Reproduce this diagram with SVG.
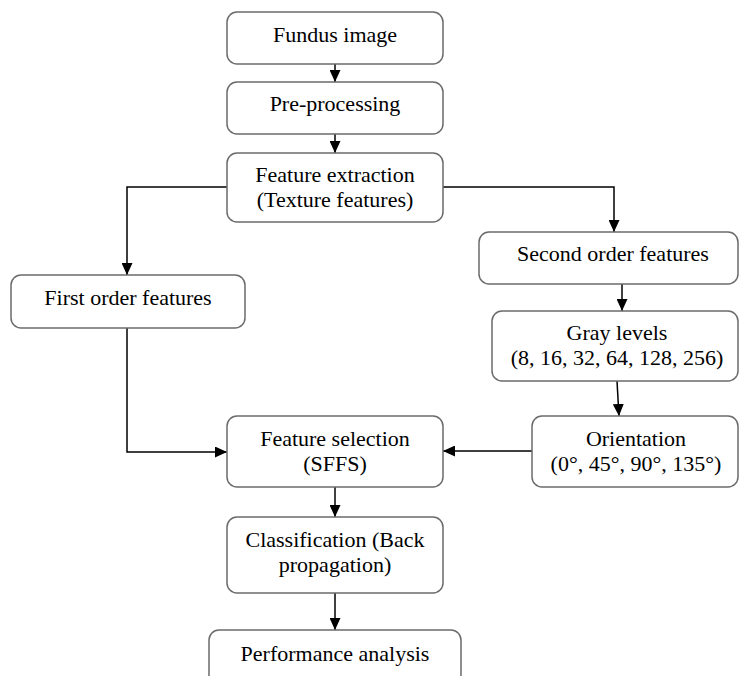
<svg xmlns="http://www.w3.org/2000/svg" width="739" height="676" viewBox="0 0 739 676">
<defs>
<marker id="ah" viewBox="0 0 12 11" refX="12" refY="5.5" markerWidth="12" markerHeight="11" markerUnits="userSpaceOnUse" orient="auto">
<path d="M0,0 L12,5.5 L0,11 z" fill="#000"/>
</marker>
<style>
.box{fill:#fff;stroke:#6b6b6b;stroke-width:1.5}
.t{font-size:22px;fill:#000;text-anchor:middle}
.c{fill:none;stroke:#000;stroke-width:1.5;marker-end:url(#ah)}
</style>
</defs>
<rect width="739" height="676" fill="#fff"/>
<g id="connectors">
<path class="c" d="M335,64 V82"/>
<path class="c" d="M335,134 V153"/>
<path class="c" d="M227,187 H127 V275"/>
<path class="c" d="M442,187 H614 V232"/>
<path class="c" d="M622,284 V311"/>
<path class="c" d="M617,381 L619,416"/>
<path class="c" d="M127,328 V452 H227"/>
<path class="c" d="M532,451 H443"/>
<path class="c" d="M335,487 V517"/>
<path class="c" d="M335,593 V630"/>
</g>
<g font-family="'Liberation Serif', 'Times New Roman', serif">
<g id="fundus"><rect class="box" x="227" y="12" width="216" height="52" rx="10"/><text class="t" x="335" y="42">Fundus image</text></g>
<g id="preprocessing"><rect class="box" x="227" y="82" width="216" height="52" rx="10"/><text class="t" x="335" y="111">Pre-processing</text></g>
<g id="extraction"><rect class="box" x="227" y="153" width="216" height="69" rx="10"/><text class="t" x="335" y="182">Feature extraction</text><text class="t" x="335" y="207">(Texture features)</text></g>
<g id="first"><rect class="box" x="11" y="275" width="234" height="53" rx="10"/><text class="t" x="128" y="305">First order features</text></g>
<g id="second"><rect class="box" x="479" y="232" width="259" height="52" rx="10"/><text class="t" x="613" y="261">Second order features</text></g>
<g id="gray"><rect class="box" x="492" y="311" width="246" height="70" rx="10"/><text class="t" x="617" y="340">Gray levels</text><text class="t" x="617" y="365">(8, 16, 32, 64, 128, 256)</text></g>
<g id="orientation"><rect class="box" x="532" y="416" width="206" height="71" rx="10"/><text class="t" x="636" y="446">Orientation</text><text class="t" x="636" y="471">(0°, 45°, 90°, 135°)</text></g>
<g id="selection"><rect class="box" x="227" y="416" width="216" height="71" rx="10"/><text class="t" x="335" y="446">Feature selection</text><text class="t" x="335" y="471">(SFFS)</text></g>
<g id="classification"><rect class="box" x="227" y="517" width="216" height="76" rx="10"/><text class="t" x="335" y="547">Classification (Back</text><text class="t" x="335" y="572">propagation)</text></g>
<g id="performance"><rect class="box" x="209" y="630" width="252" height="60" rx="10"/><text class="t" x="335" y="661">Performance analysis</text></g>
</g>
</svg>
